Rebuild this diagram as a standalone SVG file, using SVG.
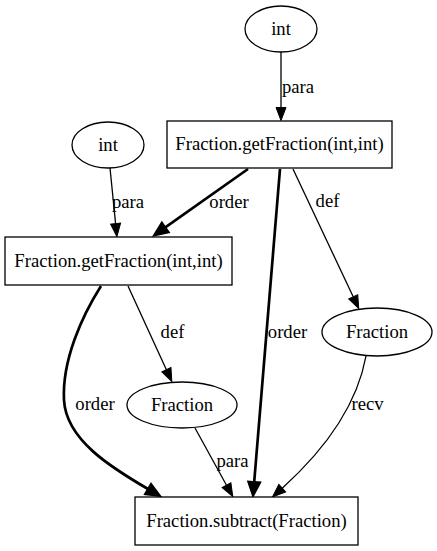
<svg xmlns="http://www.w3.org/2000/svg" width="437" height="551" viewBox="0 0 437 551">
<style>
text{font-family:"Liberation Serif","Times New Roman",serif;font-size:18.67px;fill:#000;text-anchor:middle}
.n{fill:#fff;stroke:#000;stroke-width:1.3}
.e{fill:none;stroke:#000;stroke-width:1.3;marker-end:url(#a)}
.t{fill:none;stroke:#000;stroke-width:2.7;marker-end:url(#b)}
</style>
<defs>
<marker id="a" viewBox="-1 -7 17 14" markerWidth="17" markerHeight="14" refX="0" refY="0" orient="auto" markerUnits="userSpaceOnUse">
<path d="M0,-5 L13,0 L0,5 Z" fill="#000" stroke="#000" stroke-width="1"/>
</marker>
<marker id="b" viewBox="-2 -9 20 18" markerWidth="20" markerHeight="18" refX="0" refY="0" orient="auto" markerUnits="userSpaceOnUse">
<path d="M0,-6 L14,0 L0,6 Z" fill="#000" stroke="#000" stroke-width="2"/>
</marker>
</defs>
<rect width="437" height="551" fill="#fff"/>
<g id="edges">
<path class="e" d="M281,52 L281,107.5"/>
<text x="298" y="93">para</text>
<path class="e" d="M110,168 L115.6,223.6"/>
<text x="128" y="208">para</text>
<path class="t" d="M248,169 L165.3,227.4"/>
<text x="229" y="208">order</text>
<path class="t" d="M280,169 L254.2,482"/>
<text x="287.5" y="338">order</text>
<path class="e" d="M293,169 L353.2,296.8"/>
<text x="327.5" y="207">def</text>
<path class="e" d="M128,286 L166.4,369.7"/>
<text x="172.5" y="338">def</text>
<path class="t" d="M101,286 C82,316 62,360 64,400 C66,440 112,468 148,489"/>
<text x="95" y="410">order</text>
<path class="e" d="M195,428 L226.5,485.2"/>
<text x="232.5" y="467">para</text>
<path class="e" d="M366,356 C358,400 330,445 282.2,488.2"/>
<text x="367.5" y="410">recv</text>
</g>
<g id="int1"><ellipse class="n" cx="281" cy="29" rx="36" ry="23"/><text x="281" y="35">int</text></g>
<g id="getFraction1"><rect class="n" x="167" y="121" width="225" height="47"/><text x="279.5" y="150">Fraction.getFraction(int,int)</text></g>
<g id="int2"><ellipse class="n" cx="108" cy="145" rx="36" ry="23"/><text x="108" y="151">int</text></g>
<g id="getFraction2"><rect class="n" x="5" y="237" width="227" height="48"/><text x="118.5" y="267">Fraction.getFraction(int,int)</text></g>
<g id="fraction1"><ellipse class="n" cx="182" cy="405" rx="55" ry="23"/><text x="182" y="411">Fraction</text></g>
<g id="fraction2"><ellipse class="n" cx="377" cy="332" rx="55" ry="24"/><text x="377" y="338">Fraction</text></g>
<g id="subtract"><rect class="n" x="135" y="497" width="223" height="48"/><text x="246.5" y="527">Fraction.subtract(Fraction)</text></g>
</svg>
